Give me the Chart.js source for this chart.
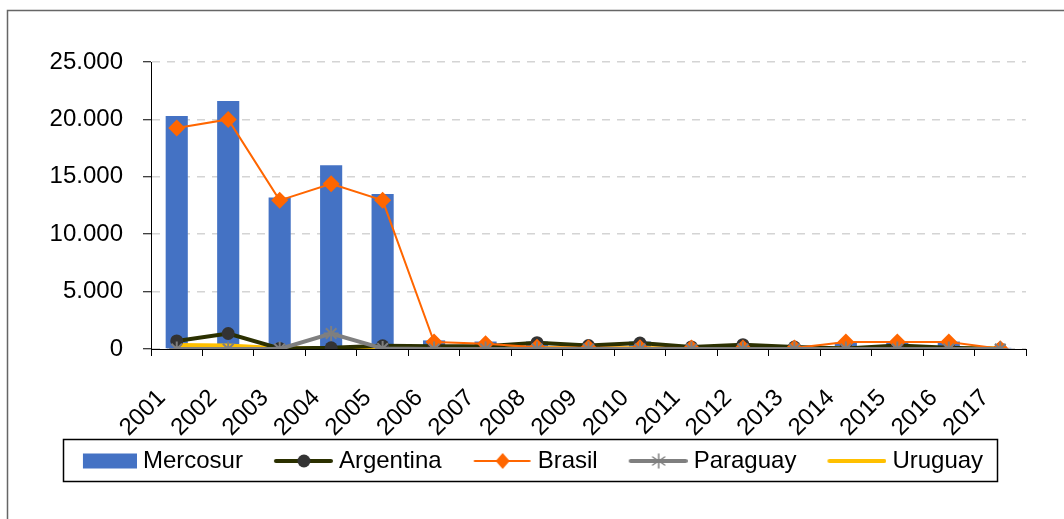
<!DOCTYPE html>
<html>
<head>
<meta charset="utf-8">
<script src="https://cdn.jsdelivr.net/npm/chart.js@4/dist/chart.umd.min.js"></script>
<style>
  html, body { margin: 0; padding: 0; background: #fff; }
  #wrap { width: 1064px; height: 519px; }
</style>
</head>
<body>
<div id="wrap"><canvas id="myChart" width="1064" height="519"></canvas></div>
<script>
'use strict';

// data
var years = ['2001','2002','2003','2004','2005','2006','2007','2008','2009','2010','2011','2012','2013','2014','2015','2016','2017'];
var mercosur  = [20300, 21600, 13200, 16000, 13500, 750, 650, 650, 300, 650, 200, 300, 200, 550, 650, 650, 100];
var argentina = [700, 1350, 50, 100, 280, 250, 250, 550, 300, 520, 180, 380, 170, 50, 300, 100, 0];
var brasil    = [19250, 20000, 12950, 14400, 12950, 600, 450, 150, 100, 100, 80, 80, 80, 600, 600, 600, 30];
var paraguay  = [0, 0, 0, 1350, 50, 0, 0, 0, 0, 0, 0, 0, 0, 0, 0, 0, 0];
var uruguay   = [320, 280, 40, 40, 40, 40, 40, 40, 40, 40, 40, 40, 40, 40, 40, 40, 40];
var yTicks = [0, 5000, 10000, 15000, 20000, 25000];

var FONT = "'Liberation Sans', Arial, sans-serif";

function fmt(v){
    return String(v).replace(/\B(?=(\d{3})+(?!\d))/g, '.');
}

// legend symbols, 86px wide canvas, symbol sits at its right end
function legendIcon(kind, color, marker, markerColor){
    var c = document.createElement('canvas');
    c.width = 86; c.height = 24;
    var g = c.getContext('2d');
    if (kind === 'bar') {
        g.fillStyle = color;
        g.fillRect(32, 4.5, 54, 15);
        return c;
    }
    g.strokeStyle = color;
    g.lineWidth = kind;
    g.lineCap = 'round';
    g.beginPath(); g.moveTo(29, 12); g.lineTo(84, 12); g.stroke();
    var cx = 57;
    if (marker === 'circle') {
        g.fillStyle = markerColor;
        g.beginPath(); g.arc(cx, 12, 6.5, 0, Math.PI * 2); g.fill();
    } else if (marker === 'diamond') {
        g.fillStyle = markerColor;
        g.beginPath(); g.moveTo(cx, 4); g.lineTo(cx + 7, 12); g.lineTo(cx, 20); g.lineTo(cx - 7, 12); g.closePath(); g.fill();
    } else if (marker === 'star') {
        g.strokeStyle = markerColor; g.lineWidth = 1.5;
        g.beginPath();
        g.moveTo(cx, 5); g.lineTo(cx, 19);
        g.moveTo(cx - 6, 8); g.lineTo(cx + 6, 16);
        g.moveTo(cx - 6, 16); g.lineTo(cx + 6, 8);
        g.stroke();
    }
    return c;
}

var icons = [
    legendIcon('bar', '#4472C4'),
    legendIcon(4, '#2b3000', 'circle', '#333333'),
    legendIcon(2, '#FF6600', 'diamond', '#FF6600'),
    legendIcon(4, '#7f7f7f', 'star', '#7f7f7f'),
    legendIcon(4, '#FFC000')
];

var framePlugin = {
    id: 'framePlugin',
    beforeDraw: function(chart){
        var ctx = chart.ctx;
        ctx.save();
        ctx.fillStyle = '#fff';
        ctx.fillRect(0, 0, chart.width, chart.height);
        ctx.restore();
    },
    afterDraw: function(chart){
        var ctx = chart.ctx;
        ctx.save();
        ctx.strokeStyle = '#666';
        ctx.lineWidth = 1.5;
        ctx.beginPath();
        ctx.moveTo(7.5, chart.height);
        ctx.lineTo(7.5, 10.5);
        ctx.lineTo(chart.width, 10.5);
        ctx.stroke();
        // box round the legend
        var hb = chart.legend.legendHitBoxes;
        if (hb && hb.length) {
            var last = hb[hb.length - 1];
            var l = hb[0].left + 6, r = last.left + last.width + 14;
            var t = hb[0].top - 10, b = hb[0].top + 32;
            ctx.strokeStyle = '#000';
            ctx.lineWidth = 1.5;
            ctx.strokeRect(Math.round(l) + 0.5, Math.round(t) + 0.5, Math.round(r - l), Math.round(b - t));
        }
        ctx.restore();
    }
};

var ctx = document.getElementById('myChart').getContext('2d');
var chart = new Chart(ctx, {
    type: 'bar',
    data: {
        labels: years,
        datasets: [{
            type: 'bar',
            label: 'Mercosur',
            data: mercosur,
            backgroundColor: '#4472C4',
            barPercentage: 0.43,
            categoryPercentage: 1,
            order: 5
        }, {
            type: 'line',
            label: 'Argentina',
            data: argentina,
            borderColor: '#2b3000',
            borderWidth: 4,
            pointStyle: 'circle',
            pointRadius: 6.5,
            pointBackgroundColor: '#333333',
            pointBorderColor: '#333333',
            pointBorderWidth: 0,
            tension: 0,
            order: 3
        }, {
            type: 'line',
            label: 'Brasil',
            data: brasil,
            borderColor: '#FF6600',
            borderWidth: 2,
            pointStyle: 'rectRot',
            pointRadius: 8.5,
            pointBackgroundColor: '#FF6600',
            pointBorderColor: '#FF6600',
            pointBorderWidth: 0,
            tension: 0,
            order: 2
        }, {
            type: 'line',
            label: 'Paraguay',
            data: paraguay,
            borderColor: '#7f7f7f',
            borderWidth: 4,
            pointStyle: 'star',
            pointRadius: 7.5,
            pointBorderColor: '#7f7f7f',
            pointBorderWidth: 2,
            tension: 0,
            order: 1
        }, {
            type: 'line',
            label: 'Uruguay',
            data: uruguay,
            borderColor: '#FFC000',
            borderWidth: 4.5,
            pointRadius: 0,
            tension: 0,
            order: 4
        }]
    },
    options: {
        responsive: false,
        animation: false,
        layout: { padding: { top: 62, left: 14, right: 38, bottom: 36 } },
        plugins: {
            tooltip: { enabled: false },
            legend: {
                position: 'bottom',
                labels: {
                    font: { family: FONT, size: 24 },
                    color: '#000',
                    usePointStyle: true,
                    pointStyleWidth: 74,
                    boxHeight: 24,
                    padding: 10,
                    generateLabels: function(ch){
                        return ch.data.datasets.map(function(ds, i){
                            return {
                                text: ds.label,
                                pointStyle: icons[i],
                                fillStyle: 'transparent',
                                strokeStyle: 'transparent',
                                lineWidth: 0,
                                fontColor: '#000',
                                hidden: false,
                                datasetIndex: i
                            };
                        });
                    }
                }
            }
        },
        scales: {
            x: {
                offset: true,
                afterFit: function(scale){ scale.height = 90; },
                grid: {
                    offset: true,
                    drawOnChartArea: false,
                    drawTicks: true,
                    tickLength: 7,
                    tickColor: '#000',
                    tickWidth: 1
                },
                border: { color: '#000', width: 1 },
                ticks: {
                    autoSkip: false,
                    maxRotation: 45,
                    minRotation: 45,
                    color: '#000',
                    font: { family: FONT, size: 24 },
                    padding: 28,
                    labelOffset: -15
                }
            },
            y: {
                min: 0,
                max: 25000,
                afterFit: function(scale){ scale.width = 137; },
                afterBuildTicks: function(scale){
                    scale.ticks = yTicks.map(function(v){ return { value: v }; });
                },
                grid: {
                    color: '#d4d4d4',
                    lineWidth: 1.5,
                    drawTicks: true,
                    tickLength: 8,
                    tickColor: '#000',
                    tickWidth: 1,
                    tickBorderDash: []
                },
                border: { color: '#000', width: 1, dash: [8, 7] },
                ticks: {
                    color: '#000',
                    font: { family: FONT, size: 24 },
                    padding: 20,
                    callback: function(v){ return fmt(v); }
                }
            }
        }
    },
    plugins: [framePlugin]
});
</script>
</body>
</html>
